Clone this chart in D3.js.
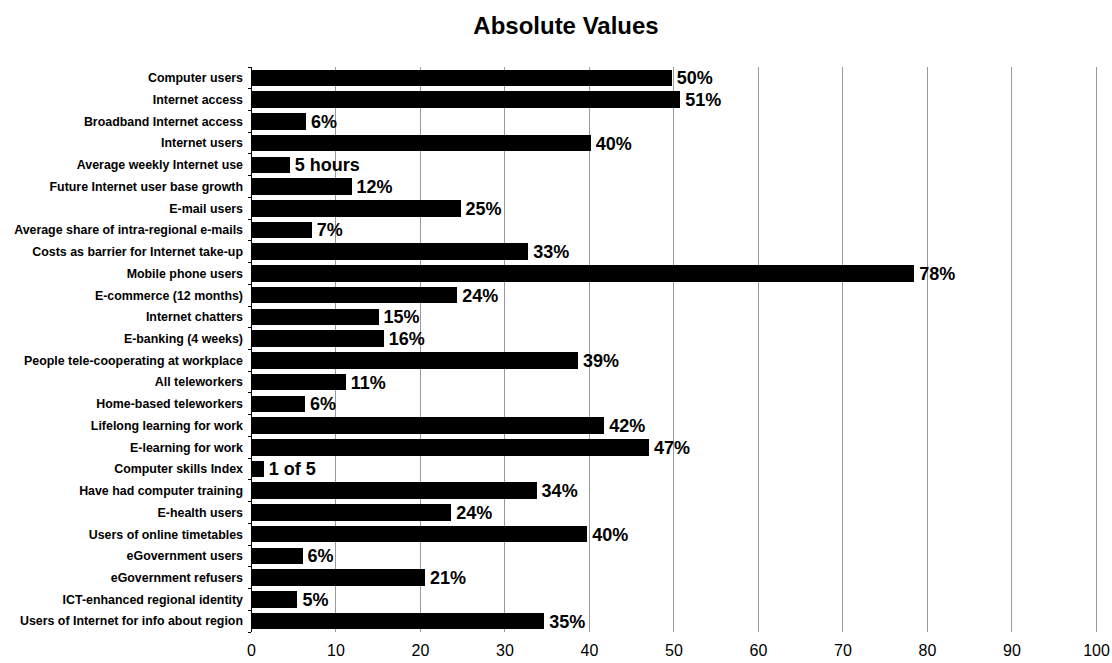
<!DOCTYPE html>
<html>
<head>
<meta charset="utf-8">
<script src="https://cdn.jsdelivr.net/npm/d3@7"></script>
<style>
  html, body { margin: 0; padding: 0; background: #fff; }
  svg { display: block; }
</style>
</head>
<body>
<svg id="chart" width="1112" height="663"></svg>
<script>
// Indicator names, top to bottom
const categories = [
  "Computer users",
  "Internet access",
  "Broadband Internet access",
  "Internet users",
  "Average weekly Internet use",
  "Future Internet user base growth",
  "E-mail users",
  "Average share of intra-regional e-mails",
  "Costs as barrier for Internet take-up",
  "Mobile phone users",
  "E-commerce (12 months)",
  "Internet chatters",
  "E-banking (4 weeks)",
  "People tele-cooperating at workplace",
  "All teleworkers",
  "Home-based teleworkers",
  "Lifelong learning for work",
  "E-learning for work",
  "Computer skills Index",
  "Have had computer training",
  "E-health users",
  "Users of online timetables",
  "eGovernment users",
  "eGovernment refusers",
  "ICT-enhanced regional identity",
  "Users of Internet for info about region"
];

// Bar lengths on the 0-100 scale
const values = [
  49.8, 50.8, 6.5, 40.2, 4.6, 11.9, 24.8, 7.2, 32.8, 78.5,
  24.4, 15.1, 15.7, 38.7, 11.2, 6.4, 41.8, 47.1, 1.5, 33.8,
  23.7, 39.8, 6.1, 20.6, 5.5, 34.7
];

// Text printed at the end of each bar
const valueLabels = [
  "50%", "51%", "6%", "40%", "5 hours", "12%", "25%", "7%", "33%", "78%",
  "24%", "15%", "16%", "39%", "11%", "6%", "42%", "47%", "1 of 5", "34%",
  "24%", "40%", "6%", "21%", "5%", "35%"
];

const xTicks = [0, 10, 20, 30, 40, 50, 60, 70, 80, 90, 100];

const svg = d3.select("#chart");
const font = "'Liberation Sans', Arial, sans-serif";

const plot = { left: 251, right: 1096, top: 67, bottom: 632 };

const x = d3.scaleLinear().domain([0, 100]).range([plot.left, plot.right]);
const y = d3.scaleBand().domain(categories).range([plot.top, plot.bottom])
  .paddingInner(0.24).paddingOuter(0.12);

// Title
svg.append("text")
  .attr("x", 566).attr("y", 34)
  .attr("text-anchor", "middle")
  .attr("font-family", font)
  .attr("font-weight", "bold")
  .attr("font-size", 24)
  .attr("fill", "#000")
  .text("Absolute Values");

// Vertical gridlines
svg.append("g")
  .selectAll("line")
  .data(xTicks.filter(d => d > 0))
  .join("line")
  .attr("x1", d => x(d)).attr("x2", d => x(d))
  .attr("y1", plot.top).attr("y2", plot.bottom)
  .attr("stroke", "#9a9a9a")
  .attr("stroke-width", 1)
  .attr("shape-rendering", "crispEdges");

// X axis tick labels (no axis line)
const xAxis = svg.append("g")
  .attr("transform", `translate(0,${plot.bottom})`)
  .call(d3.axisBottom(x).tickValues(xTicks).tickSize(0).tickPadding(13));
xAxis.select(".domain").remove();
xAxis.selectAll("text")
  .attr("font-family", font)
  .attr("font-size", 16)
  .attr("fill", "#000");

// Bars
svg.append("g")
  .selectAll("rect")
  .data(values)
  .join("rect")
  .attr("x", x(0))
  .attr("y", (d, i) => y(categories[i]))
  .attr("width", d => x(d) - x(0))
  .attr("height", y.bandwidth())
  .attr("fill", "#000")
  .attr("shape-rendering", "crispEdges");

// Value labels
svg.append("g")
  .selectAll("text")
  .data(values)
  .join("text")
  .attr("x", d => x(d) + 5)
  .attr("y", (d, i) => y(categories[i]) + y.bandwidth() / 2)
  .attr("dy", "0.36em")
  .attr("font-family", font)
  .attr("font-weight", "bold")
  .attr("font-size", 18)
  .attr("fill", "#000")
  .text((d, i) => valueLabels[i]);

// Category axis: line, ticks between bands, labels
const yAxis = svg.append("g");
yAxis.append("line")
  .attr("x1", plot.left).attr("x2", plot.left)
  .attr("y1", plot.top).attr("y2", plot.bottom)
  .attr("stroke", "#000")
  .attr("shape-rendering", "crispEdges");

const boundaries = d3.range(categories.length + 1)
  .map(i => plot.top + i * (plot.bottom - plot.top) / categories.length);
yAxis.selectAll("line.tick")
  .data(boundaries)
  .join("line")
  .attr("class", "tick")
  .attr("x1", plot.left - 3).attr("x2", plot.left)
  .attr("y1", d => d).attr("y2", d => d)
  .attr("stroke", "#000")
  .attr("shape-rendering", "crispEdges");

yAxis.selectAll("text")
  .data(categories)
  .join("text")
  .attr("x", plot.left - 8)
  .attr("y", d => y(d) + y.bandwidth() / 2)
  .attr("dy", "0.35em")
  .attr("text-anchor", "end")
  .attr("font-family", font)
  .attr("font-weight", "bold")
  .attr("font-size", 12.4)
  .attr("fill", "#000")
  .text(d => d);
</script>
</body>
</html>
